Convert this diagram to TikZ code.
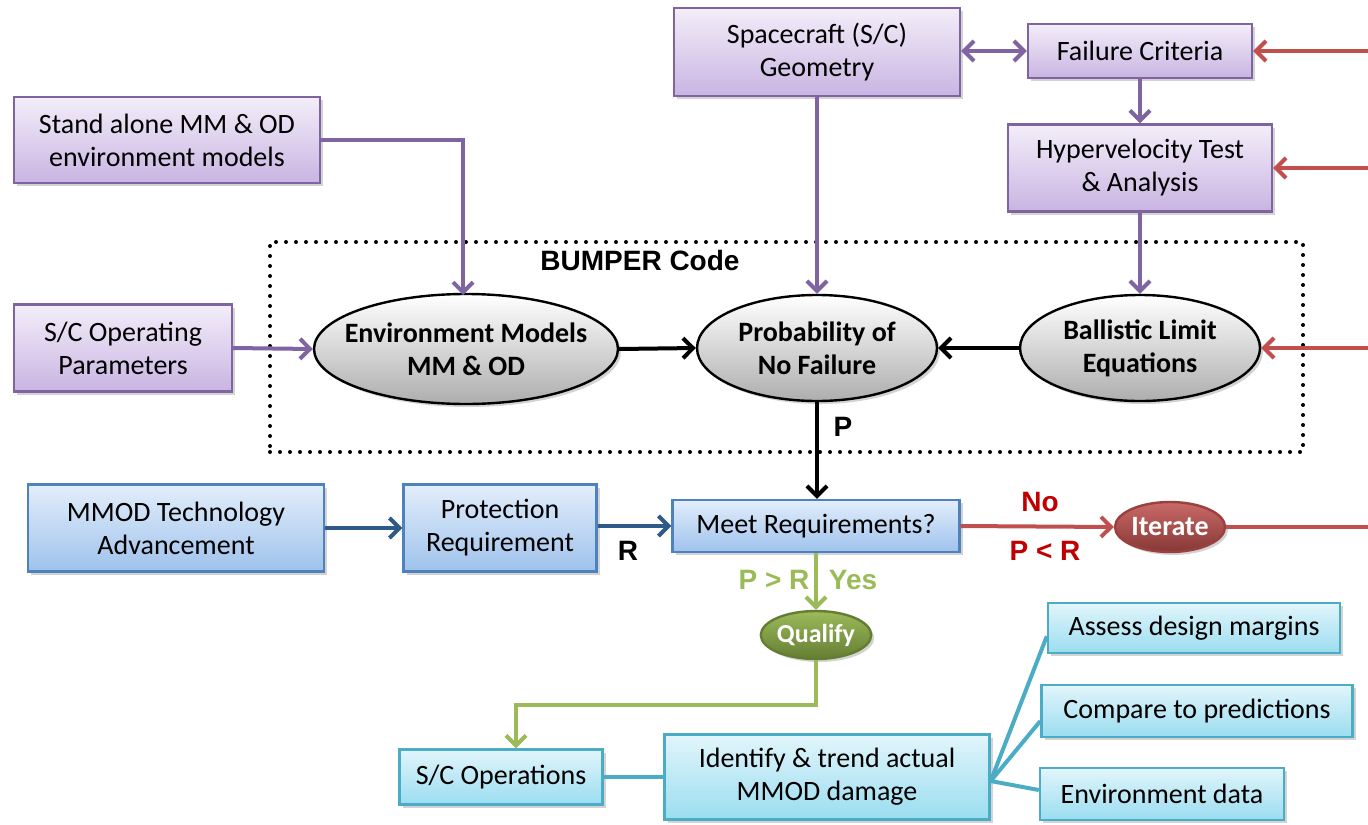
\documentclass[tikz,border=0pt]{standalone}
\usepackage{fontspec}
\setmainfont{Carlito}
\newfontfamily\arialf{Liberation Sans}
\usetikzlibrary{arrows.meta,shapes.geometric,shadows}
\definecolor{purpB}{HTML}{8064A2}
\definecolor{purpT}{HTML}{F3EEF9}
\definecolor{purpM}{HTML}{C9B4E2}
\definecolor{blueB}{HTML}{4F81BD}
\definecolor{blueT}{HTML}{E3EEFB}
\definecolor{blueM}{HTML}{9EC2EC}
\definecolor{blueA}{HTML}{2E5A8A}
\definecolor{cyanB}{HTML}{4BACC6}
\definecolor{cyanT}{HTML}{E2F5FB}
\definecolor{cyanM}{HTML}{9ADDF0}
\definecolor{redL}{HTML}{C0504D}
\definecolor{redT}{HTML}{C00000}
\definecolor{greenL}{HTML}{9BBB59}
\definecolor{greenF}{HTML}{77933C}
\begin{document}
\begin{tikzpicture}[x=0.5pt,y=-0.5pt,
  base/.style={font=\fontsize{14}{16.5}\selectfont, align=center, inner sep=0pt, line width=1.2pt,
    drop shadow={opacity=0.35, shadow xshift=1.5pt, shadow yshift=-1.5pt}},
  pbox/.style={base, rectangle, draw=purpB, top color=purpT, bottom color=purpM},
  bbox/.style={base, rectangle, draw=blueB, top color=blueT, bottom color=blueM},
  cbox/.style={base, rectangle, draw=cyanB, top color=cyanT, bottom color=cyanM},
  gell/.style={base, ellipse, draw=black, top color=white, bottom color=black!32, font=\fontsize{14}{16.5}\selectfont\bfseries},
  lab/.style={font=\arialf\fontsize{14}{16}\selectfont\bfseries, inner sep=0pt},
  tipp/.style={-{Straight Barb[length=5pt,width=10pt]}},
  pa/.style={draw=purpB, line width=2pt, tipp},
  ka/.style={draw=black, line width=2pt, tipp},
  ba/.style={draw=blueA, line width=2pt, tipp},
  ra/.style={draw=redL, line width=2pt},
  ga/.style={draw=greenL, line width=2pt},
  cl/.style={draw=cyanB, line width=2pt},
  dotbox/.style={draw=black, line width=2pt, dash pattern=on 0pt off 5pt, line cap=round}
]
\useasboundingbox (0,0) rectangle (1368,824);

% BUMPER box
\node[dotbox, minimum width=516.5pt, minimum height=105pt, inner sep=0pt] (bumper) at (786.5,347) {};
\node[lab] (bumperlab) at (640,260) {BUMPER Code};

% purple boxes
\node[pbox, minimum width=143pt, minimum height=44pt] (geom) at (817,52) {Spacecraft (S/C)\\Geometry};
\node[pbox, minimum width=112pt, minimum height=27pt] (fail) at (1140,51) {Failure Criteria};
\node[pbox, minimum width=132pt, minimum height=43.5pt] (hyper) at (1140,168) {Hypervelocity Test\\\& Analysis};
\node[pbox, minimum width=153pt, minimum height=43pt] (stand) at (167,140) {Stand alone MM \& OD\\environment models};
\node[pbox, minimum width=109pt, minimum height=43.5pt] (oppar) at (123,348) {S/C Operating\\Parameters};

% ellipses
\node[gell, inner xsep=-9pt, minimum width=152pt, minimum height=55pt] (env) at (466,349) {Environment Models\\MM \& OD};
\node[gell, minimum width=120pt, minimum height=53pt] (prob) at (817,348) {Probability of\\No Failure};
\node[gell, minimum width=120pt, minimum height=53pt] (ball) at (1140,348) {Ballistic Limit\\Equations};

% blue boxes
\node[bbox, minimum width=148pt, minimum height=43.5pt] (mmod) at (176,528) {MMOD Technology\\Advancement};
\node[bbox, minimum width=96.5pt, minimum height=43.5pt] (prot) at (500,528) {Protection\\Requirement};
\node[bbox, minimum width=143.5pt, minimum height=26pt] (meet) at (816,526) {Meet Requirements?};

% iterate / qualify
\node[base, ellipse, draw=redL!80!black, top color=redL!85, bottom color=redL!70!black, text=white,
  font=\fontsize{14}{16}\selectfont\bfseries, minimum width=55pt, minimum height=25pt] (iter) at (1170,527) {Iterate};
\node[base, ellipse, draw=greenF!85!black, top color=greenL, bottom color=greenF!85!black, text=white,
  font=\fontsize{13}{15}\selectfont\bfseries, minimum width=55pt, minimum height=24pt] (qual) at (816,635) {Qualify};

% cyan boxes
\node[cbox, minimum width=101.5pt, minimum height=27.5pt] (scops) at (501,777) {S/C Operations};
\node[cbox, minimum width=162.5pt, minimum height=42.5pt] (ident) at (827,777) {Identify \& trend actual\\MMOD damage};
\node[cbox, minimum width=146pt, minimum height=25pt] (assess) at (1194,628) {Assess design margins};
\node[cbox, minimum width=155.5pt, minimum height=26pt] (compare) at (1197,711) {Compare to predictions};
\node[cbox, minimum width=122pt, minimum height=26pt] (envdata) at (1162,794) {Environment data};

% labels
\node[lab] (plab) at (843,427) {P};
\node[lab] (rlab) at (628,551) {R};
\node[lab, text=redT] (nolab) at (1040,502) {No};
\node[lab, text=redT] (prlab) at (1045,551) {P < R};
\node[lab, text=greenL] (pgrlab) at (774,580) {P > R};
\node[lab, text=greenL] (yeslab) at (853,580) {Yes};

% right-edge coordinates
\coordinate (r1) at (1368,51);
\coordinate (r2) at (1368,168);
\coordinate (r3) at (1368,348);
\coordinate (r4) at (1368,527);

% purple connectors
\draw[pa] (stand.east) -- (463,140) -- (463,295);
\draw[pa] (oppar.east) -- (env.west);
\draw[pa] (geom.south) -- (prob.north);
\draw[draw=purpB, line width=2pt, {Straight Barb[length=5pt,width=10pt]}-{Straight Barb[length=5pt,width=10pt]}] (geom.east |- fail.west) -- (fail.west);
\draw[pa] (fail.south) -- (hyper.north);
\draw[pa] (hyper.south) -- (ball.north);

% black connectors
\draw[ka] (env.east) -- (prob.west);
\draw[ka] (ball.west) -- (prob.east);
\draw[ka] (prob.south) -- (prob.south |- meet.north);

% blue connectors
\draw[ba] (mmod.east) -- (prot.west);
\draw[ba] (prot.east |- meet.west) -- (meet.west);

% red connectors
\draw[ra, tipp] (r1) -- (fail.east);
\draw[ra, tipp] (r2) -- (hyper.east);
\draw[ra, tipp] (r3) -- (ball.east);
\draw[ra, tipp] (meet.east) -- (iter.west);
\draw[ra] (iter.east) -- (r4);

% green connectors
\draw[ga, tipp] (meet.south) -- (qual.north);
\draw[ga, tipp] (qual.south) -- (816,705) -- (516,705) -- ([xshift=7.5pt]scops.north);

% cyan connectors
\draw[cl] (scops.east) -- (ident.west);
\draw[cl] ([yshift=-2pt]ident.east) -- ([yshift=9pt]assess.south west);
\draw[cl] ([yshift=-2pt]ident.east) -- ([yshift=-5pt]compare.west);
\draw[cl] ([yshift=-2pt]ident.east) -- ([yshift=2pt]envdata.west);
\end{tikzpicture}
\end{document}
